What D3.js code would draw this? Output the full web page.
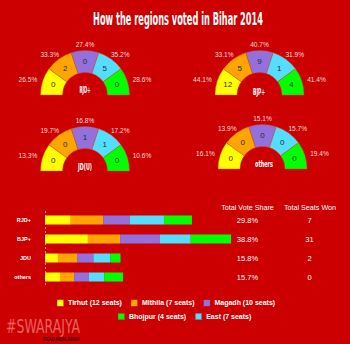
<!DOCTYPE html>
<html><head><meta charset="utf-8">
<script src="https://cdn.jsdelivr.net/npm/d3@7"></script>
<style>html,body{margin:0;padding:0;background:#cc0000;}svg{display:block;}</style>
</head><body>
<svg id="c" width="350" height="344"></svg>
<script>
const regions = ["Tirhut", "Mithila", "Magadh", "East", "Bhojpur"];
const regionSeats = [12, 7, 10, 7, 4];
const regionColors = ["#ffff00", "#ffa500", "#9370db", "#55ddff", "#00ff00"];
const gaugeNames = ["RJD+", "BJP+", "JD(U)", "others"];
const barNames = ["RJD+", "BJP+", "JDU", "others"];
const rjdShare = [26.5, 33.3, 27.4, 35.2, 28.6];
const rjdSeats = [0, 2, 0, 5, 0];
const bjpShare = [44.1, 33.1, 40.7, 31.9, 41.4];
const bjpSeats = [12, 5, 9, 1, 4];
const jduShare = [13.3, 19.7, 16.8, 17.2, 10.6];
const jduSeats = [0, 0, 1, 1, 0];
const othShare = [16.1, 13.9, 15.1, 15.7, 19.4];
const othSeats = [0, 0, 0, 0, 0];
const totalShare = ["29.8%", "38.8%", "15.8%", "15.7%"];
const totalSeats = [7, 31, 2, 0];
const legendRow1 = ["Tirhut", "Mithila", "Magadh"];
const legendRow2 = ["Bhojpur", "East"];

const shares = [rjdShare, bjpShare, jduShare, othShare];
const seats = [rjdSeats, bjpSeats, jduSeats, othSeats];

const svg = d3.select("#c");
const F = "'Liberation Sans', Arial, sans-serif";
const FN = "'Liberation Sans Narrow', 'DejaVu Sans Condensed', sans-serif";

svg.append("rect").attr("width", 350).attr("height", 344).attr("fill", "#cc0000");

// Title
svg.append("text").attr("x", 178).attr("y", 25).attr("text-anchor", "middle")
  .attr("font-family", FN).attr("font-weight", "bold").attr("font-size", 18)
  .attr("fill", "#fff").attr("textLength", 170).attr("lengthAdjust", "spacingAndGlyphs")
  .text("How the regions voted in Bihar 2014");

// Gauges
const centers = [[85, 95], [259.5, 95], [85, 171], [262.5, 169]];
const labelPos = [[85, 90, 11], [259, 92, 12], [85, 167, 14], [264, 164, 18]];
const pie = d3.pie().sort(null).value(() => 1).startAngle(-Math.PI / 2).endAngle(Math.PI / 2);
const arc = d3.arc().innerRadius(22.5).outerRadius(44.5);
const color = d3.scaleOrdinal().domain(regions).range(regionColors);

gaugeNames.forEach((name, gi) => {
  const g = svg.append("g").attr("transform", `translate(${centers[gi][0]},${centers[gi][1]})`);
  const data = regions.map((r, i) => ({ region: r, share: shares[gi][i], seats: seats[gi][i] }));
  const arcs = pie(data);
  g.selectAll("path").data(arcs).join("path")
    .attr("d", arc).attr("fill", d => color(d.data.region))
    .attr("stroke", "#d84a00").attr("stroke-width", 0.4);
  g.selectAll("text.seat").data(arcs).join("text").attr("class", "seat")
    .attr("transform", d => `translate(${arc.centroid(d)})`)
    .attr("text-anchor", "middle").attr("dy", "0.35em")
    .attr("font-family", F).attr("font-size", 8).attr("fill", "#2a2a2a")
    .text(d => d.data.seats);
  g.selectAll("text.pct").data(arcs).join("text").attr("class", "pct")
    .attr("x", d => { const a = (d.startAngle + d.endAngle) / 2; return 60 * Math.sin(a); })
    .attr("y", d => { const a = (d.startAngle + d.endAngle) / 2; return -50 * Math.cos(a); })
    .attr("text-anchor", "middle").attr("dy", "0.35em")
    .attr("font-family", F).attr("font-size", 6.6).attr("fill", "#f8dcdc")
    .text(d => d.data.share.toFixed(1) + "%");
  svg.append("text").attr("x", labelPos[gi][0]).attr("y", labelPos[gi][1]).attr("text-anchor", "middle")
    .attr("dy", "0.35em").attr("font-family", FN).attr("font-weight", "bold").attr("font-size", 8.5)
    .attr("fill", "#fff").attr("textLength", labelPos[gi][2]).attr("lengthAdjust", "spacingAndGlyphs")
    .text(name);
});

// Bars
const x = d3.scaleLinear().domain([0, 100]).range([45, 45 + 97.3]);
const y = d3.scalePoint().domain(barNames).range([210.5, 286.5]).padding(0.5);
const barH = 9;
barNames.forEach((name, bi) => {
  let acc = 0;
  const segs = regions.map((r, i) => { const s = { region: r, x0: acc, x1: acc + shares[bi][i] }; acc += shares[bi][i]; return s; });
  svg.append("g").selectAll("rect").data(segs).join("rect")
    .attr("x", d => x(d.x0)).attr("width", d => x(d.x1) - x(d.x0))
    .attr("y", y(name) - barH / 2).attr("height", barH)
    .attr("fill", d => color(d.region));
});
const axis = svg.append("g").attr("transform", "translate(45,0)")
  .call(d3.axisLeft(y).tickSize(0).tickSizeOuter(0).tickPadding(14));
axis.select(".domain").attr("stroke", "#dddddd").attr("stroke-width", 0.7).attr("stroke-dasharray", "2,2");
axis.selectAll("text").attr("font-family", F).attr("font-weight", "bold").attr("font-size", 5.5).attr("fill", "#fff");

// Totals
svg.append("text").attr("x", 247.5).attr("y", 209.5).attr("text-anchor", "middle")
  .attr("font-family", F).attr("font-size", 7.2).attr("fill", "#fff").text("Total Vote Share");
svg.append("text").attr("x", 310).attr("y", 209.5).attr("text-anchor", "middle")
  .attr("font-family", F).attr("font-size", 7.2).attr("fill", "#fff").text("Total Seats Won");
svg.append("g").selectAll("text").data(barNames).join("text")
  .attr("x", 247.5).attr("y", d => y(d)).attr("dy", "0.35em").attr("text-anchor", "middle")
  .attr("font-family", F).attr("font-size", 7.5).attr("fill", "#fff")
  .text((d, i) => totalShare[i]);
svg.append("g").selectAll("text").data(barNames).join("text")
  .attr("x", 309.5).attr("y", d => y(d)).attr("dy", "0.35em").attr("text-anchor", "middle")
  .attr("font-family", F).attr("font-size", 7.5).attr("fill", "#fff")
  .text((d, i) => totalSeats[i]);

// Legend
function legendRow(items, startX, cy) {
  let cx = startX;
  items.forEach(r => {
    const i = regions.indexOf(r);
    svg.append("rect").attr("x", cx).attr("y", cy - 3.3).attr("width", 6.6).attr("height", 6.6)
      .attr("fill", color(r)).attr("stroke", "#b00000").attr("stroke-width", 0.3);
    const t = svg.append("text").attr("x", cx + 11).attr("y", cy).attr("dy", "0.35em")
      .attr("font-family", F).attr("font-weight", "bold").attr("font-size", 7).attr("fill", "#fff")
      .text(`${r} (${regionSeats[i]} seats)`);
    cx += 11 + t.node().getComputedTextLength() + 9;
  });
}
legendRow(legendRow1, 57, 303);
legendRow(legendRow2, 118, 316.5);

// Watermark
svg.append("text").attr("x", 6).attr("y", 333).attr("font-family", FN).attr("font-size", 19)
  .attr("fill", "#e86060").attr("textLength", 74).attr("lengthAdjust", "spacingAndGlyphs").text("#SWARAJYA");
svg.append("text").attr("x", 43).attr("y", 341).attr("font-family", F).attr("font-weight", "bold").attr("font-size", 4.5)
  .attr("fill", "#3a0000").attr("textLength", 37).attr("lengthAdjust", "spacingAndGlyphs").text("READ INDIA RIGHT");
</script>
</body></html>
